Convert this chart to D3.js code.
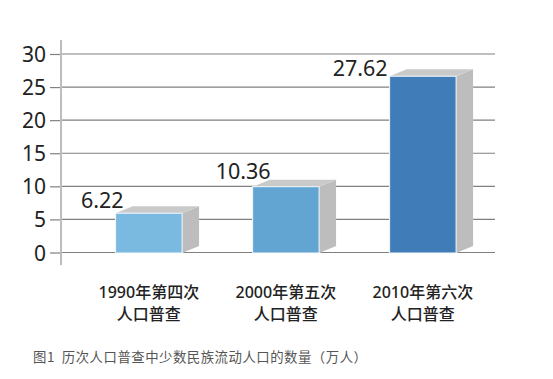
<!DOCTYPE html>
<html><head><meta charset="utf-8">
<script src="https://cdn.jsdelivr.net/npm/d3@7"></script>
<style>body{margin:0;background:#fff}svg{display:block}</style>
</head><body>
<svg id="chart" width="553" height="379"></svg>
<script>
// ---- data ----
const categoriesLine1 = ["1990年第四次", "2000年第五次", "2010年第六次"];
const categoriesLine2 = ["人口普查", "人口普查", "人口普查"];
const values = [6.22, 10.36, 27.62];
const valueLabels = ["6.22", "10.36", "27.62"];
const yTicks = [0, 5, 10, 15, 20, 25, 30];
const caption = "图1  历次人口普查中少数民族流动人口的数量（万人）";

// ---- style / layout ----
const barColors = ["#7ab9e0", "#62a5d3", "#3f7cb8"];
const svg = d3.select("#chart");
const axisX = 61, gridRight = 495;
const y = d3.scaleLinear().domain([0, 30]).range([252.5, 54]);
// front plane of the 3D bars (slightly compressed projection)
const yFront = d3.scaleLinear().domain([0, 30]).range([253, 61]);
const x = d3.scaleBand().domain(categoriesLine1).range([80, 491.7]).paddingInner(0.515).paddingOuter(0.26);
const depthX = 17, depthY = -7;

// gridlines
svg.append("g").selectAll("line").data(yTicks).join("line")
  .attr("x1", axisX).attr("x2", gridRight)
  .attr("y1", d => y(d)).attr("y2", d => y(d))
  .attr("stroke", "#808080").attr("stroke-width", 1.2);

// y axis
const yAxis = d3.axisLeft(y).tickValues(yTicks).tickSize(11).tickPadding(4);
const gA = svg.append("g").attr("transform", `translate(${axisX},0)`).call(yAxis);
gA.select(".domain").remove();
gA.selectAll(".tick line").attr("stroke", "#808080").attr("stroke-width", 1.2);
gA.selectAll(".tick text").attr("font-family", "'Noto Sans', sans-serif")
  .attr("font-size", 21).attr("fill", "#222").attr("dy", "0.36em");
svg.append("line").attr("x1", axisX).attr("x2", axisX).attr("y1", 40).attr("y2", 265)
  .attr("stroke", "#bdbdbd").attr("stroke-width", 2);

// bars
const bars = svg.append("g").selectAll("g").data(values).join("g");
bars.each(function(v, i) {
  const g = d3.select(this);
  const x0 = x(categoriesLine1[i]), x1 = x0 + x.bandwidth();
  const yt = yFront(v), yb = yFront(0);
  g.append("path")
    .attr("d", `M${x0},${yb}L${x0},${yt}L${x0+depthX},${yt+depthY}L${x1+depthX},${yt+depthY}L${x1+depthX},${yb+depthY}L${x1},${yb}Z`)
    .attr("fill", "#fff");
  g.append("path")
    .attr("d", `M${x1},${yt}L${x1+depthX},${yt+depthY}L${x1+depthX},${yb+depthY}L${x1},${yb}Z`)
    .attr("fill", "#bdbdbd");
  g.append("path")
    .attr("d", `M${x0},${yt}L${x0+depthX},${yt+depthY}L${x1+depthX},${yt+depthY}L${x1},${yt}Z`)
    .attr("fill", "#cacaca");
  g.append("rect").attr("x", x0).attr("y", yt).attr("width", x.bandwidth()).attr("height", yb - yt)
    .attr("fill", barColors[i]).attr("stroke", "#f4f8fb").attr("stroke-width", 1);
});

// value labels
const labelDx = [8, 18, -2], labelDy = [-5, -8, 0];
svg.append("g").selectAll("text").data(values).join("text")
  .attr("x", (d, i) => x(categoriesLine1[i]) + labelDx[i])
  .attr("y", (d, i) => yFront(d) + labelDy[i])
  .attr("text-anchor", "end")
  .attr("font-family", "'Noto Sans', sans-serif").attr("font-size", 21.5).attr("fill", "#222")
  .text((d, i) => valueLabels[i]);

// category labels
const cat = svg.append("g").selectAll("text").data(categoriesLine1).join("text")
  .attr("text-anchor", "middle")
  .attr("font-family", "'Noto Sans', 'Noto Sans CJK SC', sans-serif").attr("font-size", 16)
  .attr("font-weight", 500).attr("fill", "#222");
cat.append("tspan").attr("x", d => x(d) + x.bandwidth() / 2).attr("y", 298).text(d => d);
cat.append("tspan").attr("x", d => x(d) + x.bandwidth() / 2).attr("y", 320).text((d, i) => categoriesLine2[i]);

// caption
svg.append("text").attr("x", 33).attr("y", 362)
  .attr("font-family", "'Noto Sans CJK SC', sans-serif").attr("font-size", 13.4)
  .attr("letter-spacing", 0.5)
  .attr("fill", "#555").style("white-space", "pre").text(caption);
</script>
</body></html>
